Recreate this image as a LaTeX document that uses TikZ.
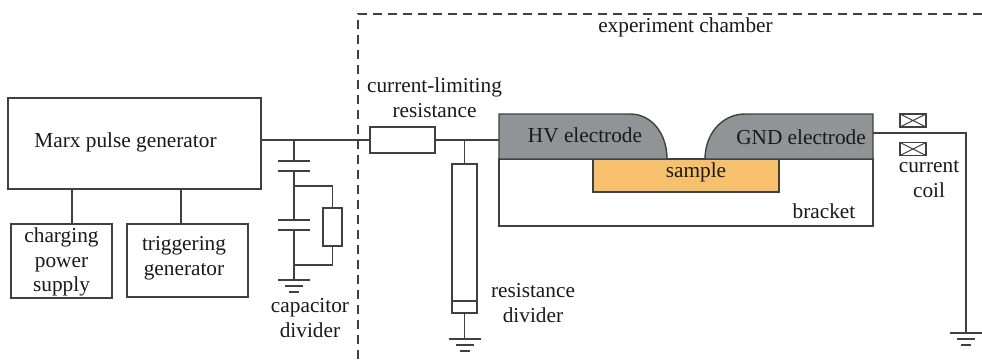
\documentclass[tikz,border=0pt]{standalone}
\usepackage{fontspec}
\setmainfont{Liberation Serif}
\definecolor{linec}{RGB}{64,64,64}
\definecolor{elec}{RGB}{146,147,151}
\definecolor{samp}{RGB}{247,192,109}
\tikzset{
  x=1pt,y=-1pt,
  wire/.style={draw=linec,line width=1.5pt},
  boxn/.style={draw=linec,line width=1.4pt,fill=white,inner sep=0pt,outer sep=0pt},
  lbl/.style={font=\fontsize{21.3}{24.8}\selectfont,text=black!90,inner sep=0pt,align=center},
  fineline/.style={draw=linec,line width=1.1pt},
}
\newcommand{\earth}[1]{%
  \draw[wire] ([xshift=-16pt]#1) -- ([xshift=16pt]#1);
  \draw[wire] ([xshift=-9pt,yshift=-6pt]#1) -- ([xshift=9pt,yshift=-6pt]#1);
  \draw[wire] ([xshift=-5pt,yshift=-12pt]#1) -- ([xshift=5pt,yshift=-12pt]#1);
}
\begin{document}
\begin{tikzpicture}
\useasboundingbox (0,0) rectangle (982,359);
% chamber
\coordinate (dtl) at (358,14);
\coordinate (dbl) at (358,359);
\coordinate (dtr) at (982,14);
\draw[draw=linec,line width=1.3pt,dash pattern=on 9pt off 6pt] (dbl) -- (dtl) -- (dtr);
% blocks
\node[boxn,minimum width=253pt,minimum height=91pt] (marx) at (134.5,143.5) {};
\node[boxn,minimum width=101pt,minimum height=74pt] (charging) at (61.5,261) {};
\node[boxn,minimum width=121pt,minimum height=73pt] (trigger) at (187.5,260.5) {};
\draw[wire] (72,189) -- (72,224);
\draw[wire] (181,189) -- (181,224);
\node[lbl] (tmarx) at (125.5,142) {Marx pulse generator};
\node[lbl] (tcharge) at (61.5,262) {charging\\power\\supply};
\node[lbl] (ttrig) at (184,258) {triggering\\generator};
% resistors
\node[boxn,minimum width=65pt,minimum height=26pt] (rlimit) at (402.5,140) {};
\node[boxn,minimum width=25pt,minimum height=149pt] (rdiv) at (464.5,238.5) {};
\node[boxn,minimum width=19pt,minimum height=38pt] (rcap) at (332.5,227) {};
% bracket, sample, electrodes
\node[boxn,minimum width=374pt,minimum height=67pt] (bracket) at (686,192.5) {};
\node[boxn,fill=samp,minimum width=186pt,minimum height=33pt] (sample) at (686,175.5) {};
\path[boxn,fill=elec] (499,159) -- (499,114) -- (630,114) .. controls (652,114) and (667,134) .. (667,159) -- cycle;
\path[boxn,fill=elec] (705,159) .. controls (705,134) and (722,114) .. (745,114) -- (873,114) -- (873,159) -- cycle;
\coordinate (hv) at (499,140);
\coordinate (gnd) at (873,133);
% main wires
\draw[wire] (marx.east |- rlimit.west) -- (rlimit.west);
\draw[wire] (rlimit.east) -- (hv);
\coordinate (tap) at (rdiv.north |- hv);
\draw[wire] (tap) -- (rdiv.north);
\draw[fineline] ([yshift=12pt]rdiv.south west) -- ([yshift=12pt]rdiv.south east);
\coordinate (g2) at (rdiv.south |- 0,339);
\draw[wire] (rdiv.south) -- (g2);
\earth{g2}
% capacitor divider
\coordinate (ctop) at (294,140);
\coordinate (c1a) at (294,161);
\coordinate (c1b) at (294,171);
\coordinate (c2a) at (294,220);
\coordinate (c2b) at (294,230);
\coordinate (jc) at (294,186);
\coordinate (jd) at (294,265);
\coordinate (g1) at (294,280);
\draw[wire] (ctop) -- (c1a);
\draw[wire] ([xshift=-16pt]c1a) -- ([xshift=16pt]c1a);
\draw[wire] ([xshift=-16pt]c1b) -- ([xshift=16pt]c1b);
\draw[wire] (c1b) -- (c2a);
\draw[wire] ([xshift=-16pt]c2a) -- ([xshift=16pt]c2a);
\draw[wire] ([xshift=-16pt]c2b) -- ([xshift=16pt]c2b);
\draw[wire] (c2b) -- (g1);
\draw[wire] (jc) -| (rcap.north);
\draw[wire] (jd) -| (rcap.south);
\earth{g1}
% right side
\coordinate (rc) at (966,133);
\coordinate (g3) at (966,333);
\draw[wire] (gnd) -- (rc) -- (g3);
\earth{g3}
% coil
\node[boxn,minimum width=26pt,minimum height=13pt] (coila) at (913,120.5) {};
\node[boxn,minimum width=26pt,minimum height=13pt] (coilb) at (913,149) {};
\draw[fineline] (coila.north west) -- (coila.south east) (coila.south west) -- (coila.north east);
\draw[fineline] (coilb.north west) -- (coilb.south east) (coilb.south west) -- (coilb.north east);
% labels
\node[lbl] (tcham) at (685.5,27) {experiment chamber};
\node[lbl] (tlimit) at (434.5,97.5) {current-limiting\\resistance};
\node[lbl] (thv) at (585,135) {HV electrode};
\node[lbl] (tgnd) at (801,137) {GND electrode};
\node[lbl] (tsamp) at (696,172.5) {sample};
\node[lbl] (tbrack) at (824,211) {bracket};
\node[lbl] (tcoil) at (929,179) {current\\coil};
\node[lbl] (tcapd) at (310,318) {capacitor\\divider};
\node[lbl] (trdiv) at (533,303) {resistance\\divider};
\end{tikzpicture}
\end{document}
